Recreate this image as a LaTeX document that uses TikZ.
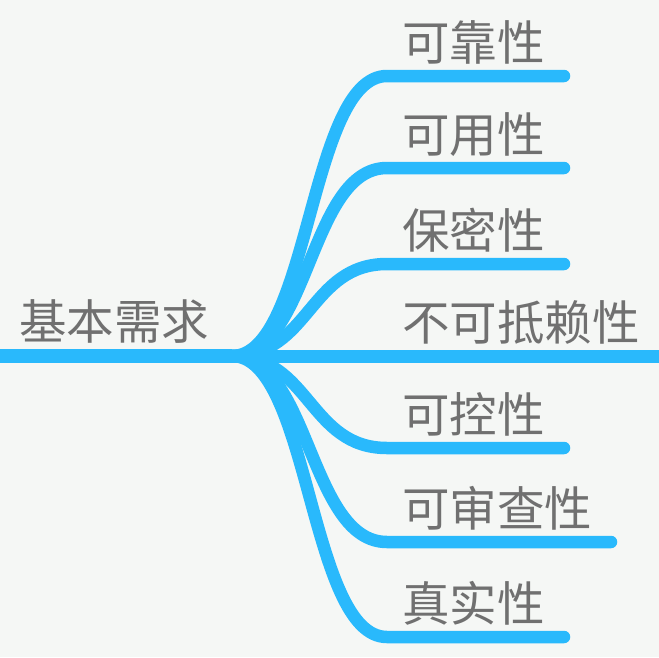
\documentclass[tikz,border=0pt]{standalone}
\usepackage{fontspec}
\setmainfont{Noto Sans CJK SC}
\definecolor{bg}{HTML}{F5F7F5}
\definecolor{lineblue}{HTML}{29B9FC}
\definecolor{txtgrey}{HTML}{707070}
\begin{document}
\begin{tikzpicture}[x=1pt,y=-1pt,
  mainline/.style={draw=lineblue,line width=14pt},
  branch/.style={draw=lineblue,line width=12.5pt,line cap=round},
  lbl/.style={anchor=base west,inner sep=0pt,text=txtgrey,font=\fontsize{47.5pt}{47.5pt}\selectfont}]
\fill[bg] (0,0) rectangle (659,657);
\useasboundingbox (0,0) rectangle (659,657);
% root
\coordinate (start) at (-5,356);
\coordinate (root) at (232,356);
\node[lbl] (rootlbl) at (19,339) {基本需求};
\draw[mainline] (start) -- (root);
% branch anchors
\coordinate (b1) at (387,76);   \coordinate (e1) at (564,76);
\coordinate (b2) at (387,168);  \coordinate (e2) at (564,168);
\coordinate (b3) at (387,264);  \coordinate (e3) at (564,264);
\coordinate (e4) at (665,356);
\coordinate (b5) at (387,448);  \coordinate (e5) at (564,448);
\coordinate (b6) at (387,542);  \coordinate (e6) at (611,542);
\coordinate (b7) at (387,637);  \coordinate (e7) at (564,637);
% branches
\draw[branch] (root) .. controls +(78,0) and +(-78,0) .. (b1) -- (e1);
\draw[branch] (root) .. controls +(78,0) and +(-78,0) .. (b2) -- (e2);
\draw[branch] (root) .. controls +(78,0) and +(-78,0) .. (b3) -- (e3);
\draw[mainline,line width=13pt] (root) -- (e4);
\draw[branch] (root) .. controls +(78,0) and +(-78,0) .. (b5) -- (e5);
\draw[branch] (root) .. controls +(78,0) and +(-78,0) .. (b6) -- (e6);
\draw[branch] (root) .. controls +(78,0) and +(-78,0) .. (b7) -- (e7);
% labels
\node[lbl] (l1) at (402,60)  {可靠性};
\node[lbl] (l2) at (402,152) {可用性};
\node[lbl] (l3) at (402,248) {保密性};
\node[lbl] (l4) at (402,340) {不可抵赖性};
\node[lbl] (l5) at (402,432) {可控性};
\node[lbl] (l6) at (402,526) {可审查性};
\node[lbl] (l7) at (402,621) {真实性};
\end{tikzpicture}
\end{document}
